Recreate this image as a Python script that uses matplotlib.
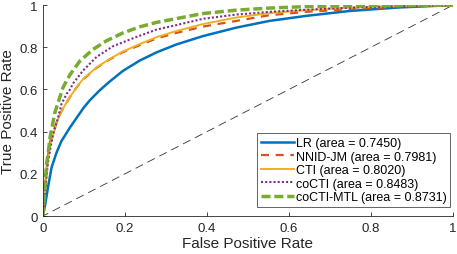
import matplotlib
matplotlib.use("Agg")
import matplotlib.pyplot as plt

# =========================
# DATA
# =========================

labels = [
    "LR (area = 0.7450)",
    "NNID-JM (area = 0.7981)",
    "CTI (area = 0.8020)",
    "coCTI (area = 0.8483)",
    "coCTI-MTL (area = 0.8731)",
]

lr_fpr = [0, 0.005, 0.013, 0.021, 0.033, 0.045, 0.066, 0.082, 0.098, 0.114, 0.139, 0.163,
          0.195, 0.236, 0.277, 0.325, 0.39, 0.471, 0.552, 0.642, 0.747, 0.869, 1]
lr_tpr = [0, 0.05, 0.144, 0.23, 0.30, 0.355, 0.42, 0.465, 0.51, 0.548, 0.597, 0.638,
          0.688, 0.737, 0.776, 0.813, 0.853, 0.893, 0.925, 0.949, 0.972, 0.989, 1]

nnid_fpr = [0, 0.003, 0.007, 0.012, 0.017, 0.029, 0.037, 0.049, 0.066, 0.082, 0.098, 0.131,
            0.163, 0.195, 0.236, 0.277, 0.325, 0.39, 0.471, 0.552, 0.642, 0.75, 0.87, 1]
nnid_tpr = [0, 0.09, 0.19, 0.28, 0.35, 0.42, 0.465, 0.51, 0.565, 0.61, 0.648, 0.703,
            0.743, 0.777, 0.81, 0.842, 0.868, 0.898, 0.925, 0.952, 0.968, 0.981, 0.992, 1]

cti_fpr = [0, 0.003, 0.007, 0.012, 0.017, 0.029, 0.037, 0.049, 0.066, 0.082, 0.098, 0.131,
           0.163, 0.195, 0.236, 0.277, 0.325, 0.39, 0.471, 0.552, 0.642, 0.75, 0.87, 1]
cti_tpr = [0, 0.08, 0.17, 0.26, 0.333, 0.412, 0.46, 0.51, 0.565, 0.61, 0.65, 0.705,
           0.745, 0.78, 0.815, 0.848, 0.877, 0.91, 0.941, 0.962, 0.976, 0.988, 0.996, 1]

cocti_fpr = [0, 0.003, 0.007, 0.012, 0.018, 0.025, 0.037, 0.045, 0.058, 0.066, 0.074, 0.098,
             0.131, 0.171, 0.22, 0.277, 0.325, 0.39, 0.471, 0.552, 0.642, 0.75, 0.87, 1]
cocti_tpr = [0, 0.06, 0.15, 0.25, 0.32, 0.39, 0.468, 0.53, 0.58, 0.60, 0.63, 0.69,
             0.755, 0.805, 0.843, 0.884, 0.905, 0.935, 0.955, 0.968, 0.978, 0.988, 0.995, 1]

mtl_fpr = [0, 0.002, 0.005, 0.009, 0.013, 0.017, 0.021, 0.029, 0.049, 0.066, 0.09, 0.122,
           0.155, 0.195, 0.236, 0.277, 0.325, 0.39, 0.471, 0.552, 0.642, 0.75, 0.87, 1]
mtl_tpr = [0, 0.05, 0.15, 0.25, 0.30, 0.37, 0.41, 0.49, 0.61, 0.67, 0.735, 0.79,
           0.831, 0.868, 0.897, 0.918, 0.936, 0.96, 0.976, 0.986, 0.993, 0.997, 0.999, 1]

ticks = [0, 0.2, 0.4, 0.6, 0.8, 1]
tick_labels = ["0", "0.2", "0.4", "0.6", "0.8", "1"]

# =========================
# STYLE
# =========================

plt.rcParams["font.family"] = ["Liberation Sans", "DejaVu Sans"]

fig = plt.figure(figsize=(4.57, 2.55), dpi=100)
ax = fig.add_axes([0.094, 0.149, 0.897, 0.827])

# chance line
ax.plot([0, 1], [0, 1], color="#333333", lw=0.6, linestyle=(3, (10, 6)))

ax.plot(lr_fpr, lr_tpr, color="#0072BD", lw=1.8, label=labels[0])
ax.plot(nnid_fpr, nnid_tpr, color="#D95319", lw=1.6, linestyle=(0, (3.6, 3)), label=labels[1])
ax.plot(cti_fpr, cti_tpr, color="#EDB120", lw=1.4, label=labels[2])
ax.plot(cocti_fpr, cocti_tpr, color="#7E2F8E", lw=1.5, linestyle=(0, (1, 1)), label=labels[3])
ax.plot(mtl_fpr, mtl_tpr, color="#77AC30", lw=2.5, linestyle=(0, (2.6, 1.1)), label=labels[4])

ax.set_xlim(0, 1)
ax.set_ylim(0, 1)
ax.set_xticks(ticks)
ax.set_xticklabels(tick_labels)
ax.set_yticks(ticks)
ax.set_yticklabels(tick_labels)
ax.tick_params(direction="in", length=3, width=0.6, labelsize=9.5,
               colors="#262626", pad=4)

for side in ["top", "right"]:
    ax.spines[side].set_visible(False)
for side in ["left", "bottom"]:
    ax.spines[side].set_color("#262626")
    ax.spines[side].set_linewidth(0.6)

ax.set_xlabel("False Positive Rate", fontsize=11, color="#262626", labelpad=2)
ax.set_ylabel("True Positive Rate", fontsize=11, color="#262626", labelpad=3)

leg = ax.legend(loc="lower right", bbox_to_anchor=(0.993, 0.043), fontsize=9,
                frameon=True, fancybox=False, framealpha=1, edgecolor="#262626",
                handlelength=2.6, handletextpad=0.15, labelspacing=0.12,
                borderpad=0.3, borderaxespad=0)
leg.get_frame().set_linewidth(0.5)

fig.savefig("out.png", dpi=100)
